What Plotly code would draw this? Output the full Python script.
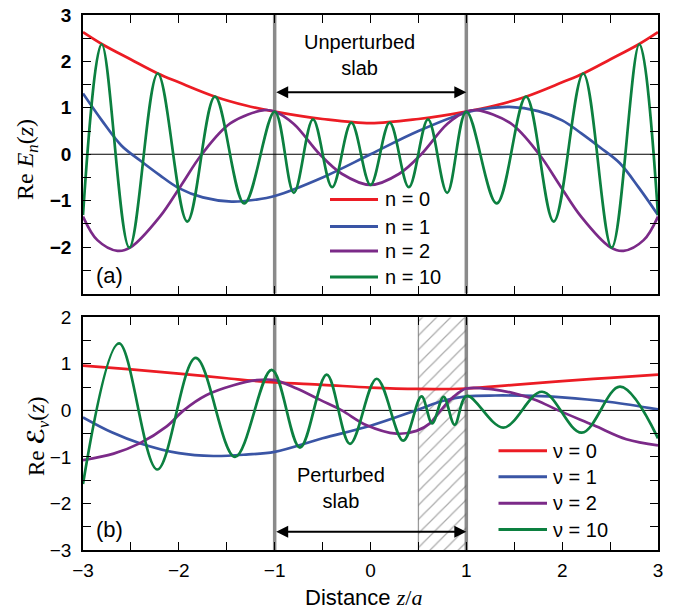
import plotly.graph_objects as go

# ---- mode profiles, unperturbed slab (panel a) ----
Z_N0 = [-3.0, -2.8, -2.5, -2.22, -2.0, -1.62, -1.3, -1.0, -0.5, 0.0, 0.5, 1.0, 1.3, 1.62, 2.0, 2.22, 2.5, 2.8, 3.0]
RE_N0 = [2.63, 2.37, 2.04, 1.74, 1.55, 1.24, 1.05, 0.92, 0.76, 0.67, 0.76, 0.92, 1.05, 1.24, 1.55, 1.74, 2.04, 2.37, 2.63]

Z_N1 = [-3.0, -2.8, -2.6, -2.4, -2.2, -2.0, -1.75, -1.45, -1.2, -1.0, -0.5, 0.0,
        0.5, 1.0, 1.2, 1.45, 1.75, 2.0, 2.2, 2.4, 2.6, 2.8, 3.0]
RE_N1 = [1.31, 0.72, 0.19, -0.14, -0.45, -0.73, -0.93, -1.02, -0.98, -0.90, -0.50, 0.0,
         0.50, 0.90, 0.98, 1.02, 0.93, 0.73, 0.45, 0.14, -0.19, -0.72, -1.31]

Z_N2 = [-3.0, -2.85, -2.64, -2.5, -2.2, -1.97, -1.76, -1.46, -1.11, -1.0, -0.8, -0.53, -0.3, 0.0,
        0.3, 0.53, 0.8, 1.0, 1.11, 1.46, 1.76, 1.97, 2.2, 2.5, 2.64, 2.85, 3.0]
RE_N2 = [-1.34, -1.85, -2.08, -2.0, -1.35, -0.65, 0.0, 0.67, 0.95, 0.92, 0.65, 0.0, -0.42, -0.66,
         -0.42, 0.0, 0.65, 0.92, 0.95, 0.67, 0.0, -0.65, -1.35, -2.0, -2.08, -1.85, -1.34]

# n = 10: values at the crests and troughs
Z_N10 = [-3.0, -2.805, -2.517, -2.22, -1.912, -1.623, -1.317, -1.0, -0.8, -0.6, -0.4, -0.2, 0.0,
         0.2, 0.4, 0.6, 0.8, 1.0, 1.317, 1.623, 1.912, 2.22, 2.517, 2.805, 3.0]
RE_N10 = [-1.31, 2.37, -2.01, 1.74, -1.45, 1.24, -1.06, 0.92, -0.83, 0.75, -0.71, 0.68, -0.66,
          0.68, -0.71, 0.75, -0.83, 0.92, -1.06, 1.24, -1.45, 1.74, -2.01, 2.37, -1.31]

# ---- mode profiles, perturbed slab (panel b) ----
Z_V0 = [-3.0, -2.5, -2.0, -1.5, -1.0, -0.5, 0.0, 0.5, 1.0, 1.5, 2.0, 2.5, 3.0]
RE_V0 = [0.96, 0.88, 0.79, 0.69, 0.60, 0.55, 0.49, 0.46, 0.47, 0.55, 0.63, 0.70, 0.77]

Z_V1 = [-3.0, -2.7, -2.4, -2.0, -1.64, -1.3, -1.0, -0.5, 0.0, 0.5, 0.75, 1.0, 1.3, 1.7, 2.0, 2.5, 3.0]
RE_V1 = [-0.15, -0.47, -0.71, -0.92, -0.98, -0.95, -0.89, -0.60, -0.33, 0.02, 0.20, 0.30, 0.32, 0.31, 0.28, 0.18, 0.02]

Z_V2 = [-3.0, -2.68, -2.41, -2.13, -1.95, -1.71, -1.43, -1.19, -1.0, -0.77, -0.52, -0.30, -0.04,
        0.27, 0.48, 0.62, 0.72, 0.865, 1.0, 1.28, 1.49, 1.73, 1.96, 2.33, 2.67, 3.0]
RE_V2 = [-1.07, -0.93, -0.71, -0.35, 0.0, 0.33, 0.54, 0.65, 0.65, 0.47, 0.22, 0.0, -0.32,
         -0.50, -0.44, -0.28, -0.03, 0.29, 0.47, 0.45, 0.37, 0.22, 0.0, -0.32, -0.62, -0.75]

Z_V10 = [-3.0, -2.624, -2.225, -1.824, -1.414, -1.031, -0.736, -0.457, -0.214, 0.065, 0.342,
         0.532, 0.643, 0.763, 0.878, 1.004, 1.386, 1.79, 2.204, 2.604, 3.0]
RE_V10 = [-1.58, 1.44, -1.27, 1.13, -1.00, 0.87, -0.80, 0.77, -0.72, 0.68, -0.65,
          0.30, -0.28, 0.29, -0.31, 0.31, -0.37, 0.40, -0.48, 0.51, -0.60]

LABELS_TOP = ["n = 0", "n = 1", "n = 2", "n = 10"]
LABELS_BOT = ["\u03bd = 0", "\u03bd = 1", "\u03bd = 2", "\u03bd = 10"]
COLORS = ["#ec1c24", "#3a55a5", "#7b2a88", "#0c8040"]

SLAB_EDGES = [-1.0, 1.0]
PERTURBED_ZONE = [0.5, 1.0]
X_TICKS = [-3, -2, -1, 0, 1, 2, 3]
Y_TICKS_TOP = [-2, -1, 0, 1, 2, 3]
Y_TICKS_BOT = [-3, -2, -1, 0, 1, 2]

SANS = "Liberation Sans, Arial, sans-serif"
SERIF = "Liberation Serif, Times New Roman, serif"
W, H = 680, 612
GRAY = "#8a8a8a"


def px(x):
    return x / W


def py(y):
    return 1 - y / H


fig = go.Figure()

# hatched perturbed zone
fig.add_trace(go.Scatter(
    x=[PERTURBED_ZONE[0], PERTURBED_ZONE[1], PERTURBED_ZONE[1], PERTURBED_ZONE[0], PERTURBED_ZONE[0]],
    y=[-3, -3, 2, 2, -3], xaxis="x2", yaxis="y2", mode="lines", fill="toself",
    line=dict(width=0), fillcolor="rgba(0,0,0,0)",
    fillpattern=dict(shape="/", fgcolor="#555555", bgcolor="rgba(0,0,0,0)", size=10, solidity=0.12),
    hoverinfo="skip", showlegend=False))

top = [(Z_N0, RE_N0), (Z_N1, RE_N1), (Z_N2, RE_N2), (Z_N10, RE_N10)]
bot = [(Z_V0, RE_V0), (Z_V1, RE_V1), (Z_V2, RE_V2), (Z_V10, RE_V10)]

for (zs, vs), c, name in zip(top, COLORS, LABELS_TOP):
    fig.add_trace(go.Scatter(x=zs, y=vs, mode="lines", name=name, xaxis="x", yaxis="y",
                             line=dict(color=c, width=2.7, shape="spline", smoothing=1.0),
                             showlegend=False))
for (zs, vs), c, name in zip(bot, COLORS, LABELS_BOT):
    fig.add_trace(go.Scatter(x=zs, y=vs, mode="lines", name=name, xaxis="x2", yaxis="y2",
                             line=dict(color=c, width=2.7, shape="spline", smoothing=1.0),
                             showlegend=False))

XDOM = [83 / W, 658 / W]
TOP_DOM = [py(293.5), py(15)]
BOT_DOM = [py(550), py(317.3)]

axis_common = dict(showline=True, linecolor="black", linewidth=1.5, mirror="ticks",
                   ticks="inside", ticklen=8, tickwidth=1.2, tickcolor="black",
                   showgrid=False, zeroline=False, automargin=False,
                   minor=dict(ticks="inside", ticklen=8, tickwidth=1.2, tickcolor="black", dtick=0.5,
                              showgrid=False))

fig.update_layout(
    width=W, height=H, margin=dict(l=0, r=0, t=0, b=0, autoexpand=False),
    paper_bgcolor="white", plot_bgcolor="white", showlegend=False,
    xaxis=dict(domain=XDOM, anchor="y", range=[-3, 3], tickvals=X_TICKS, showticklabels=False,
               **axis_common),
    yaxis=dict(domain=TOP_DOM, anchor="x", range=[-3, 3], tickvals=Y_TICKS_TOP,
               tickfont=dict(family=SANS, size=19, color="black", weight="bold"),
               ticklabelstandoff=6, **axis_common),
    xaxis2=dict(domain=XDOM, anchor="y2", range=[-3, 3], tickvals=X_TICKS,
                tickfont=dict(family=SANS, size=19, color="black"), ticklabelstandoff=2,
                **axis_common),
    yaxis2=dict(domain=BOT_DOM, anchor="x2", range=[-3, 2], tickvals=Y_TICKS_BOT,
                tickfont=dict(family=SANS, size=19, color="black"), ticklabelstandoff=6,
                **axis_common),
)

shapes = []
# zero reference lines
for xr, yr in (("x", "y"), ("x2", "y2")):
    shapes.append(dict(type="line", xref=xr, yref=yr, x0=-3, x1=3, y0=0, y1=0,
                       line=dict(color="black", width=1), layer="below"))
# slab boundaries
for xr, yr in (("x", "y domain"), ("x2", "y2 domain")):
    for xe in SLAB_EDGES:
        shapes.append(dict(type="line", xref=xr, yref=yr, x0=xe, x1=xe, y0=0, y1=1,
                           line=dict(color=GRAY, width=3.5), layer="below"))
shapes.append(dict(type="line", xref="x2", yref="y2 domain", x0=PERTURBED_ZONE[0], x1=PERTURBED_ZONE[0],
                   y0=0, y1=1, line=dict(color="#9a9a9a", width=1.3), layer="below"))

annotations = []
# slab arrows
annotations.append(dict(x=SLAB_EDGES[1], y=1.335, ax=SLAB_EDGES[0], ay=1.335, xref="x", yref="y",
                        axref="x", ayref="y", text="", showarrow=True, arrowside="end+start",
                        arrowhead=2, arrowsize=1.2, arrowwidth=2, arrowcolor="black"))
annotations.append(dict(x=SLAB_EDGES[1], y=-2.61, ax=SLAB_EDGES[0], ay=-2.61, xref="x2", yref="y2",
                        axref="x2", ayref="y2", text="", showarrow=True, arrowside="end+start",
                        arrowhead=2, arrowsize=1.2, arrowwidth=2, arrowcolor="black"))
annotations.append(dict(x=-0.12, y=2.14, xref="x", yref="y", text="Unperturbed<br>slab",
                        showarrow=False, font=dict(family=SANS, size=20, color="black")))
annotations.append(dict(x=-0.31, y=-1.66, xref="x2", yref="y2", text="Perturbed<br>slab",
                        showarrow=False, font=dict(family=SANS, size=20, color="black")))
annotations.append(dict(x=px(94), y=py(276), xref="paper", yref="paper", text="(a)", xanchor="left",
                        yanchor="middle", showarrow=False, font=dict(family=SANS, size=22, color="black")))
annotations.append(dict(x=px(94), y=py(529), xref="paper", yref="paper", text="(b)", xanchor="left",
                        yanchor="middle", showarrow=False, font=dict(family=SANS, size=22, color="black")))

# axis titles
annotations.append(dict(x=px(27), y=py(160), xref="paper", yref="paper", textangle=-90,
                        xanchor="center", yanchor="middle",
                        text="Re <i>E</i><sub><i>n</i></sub>(<i>z</i>)", showarrow=False,
                        font=dict(family=SERIF, size=24, color="black")))
annotations.append(dict(x=px(37), y=py(436), xref="paper", yref="paper", textangle=-90,
                        xanchor="center", yanchor="middle",
                        text="Re <span style='font-family:DejaVu Sans'><b>\u2130</b></span>"
                             "<sub><i>\u03bd</i></sub>(<i>z</i>)", showarrow=False,
                        font=dict(family=SERIF, size=23, color="black")))
annotations.append(dict(x=px(363), y=py(597), xref="paper", yref="paper", xanchor="center",
                        yanchor="middle",
                        text="Distance <span style='font-family:Liberation Serif'><i>z</i>/<i>a</i></span>",
                        showarrow=False, font=dict(family=SANS, size=22, color="black")))

# legends
LEG_TOP = dict(x0=330, x1=378, tx=383, rows=[199.5, 226.5, 251, 277])
LEG_BOT = dict(x0=498.5, x1=547, tx=551, rows=[450.7, 476.7, 503.3, 529.5])
for leg, labels in ((LEG_TOP, LABELS_TOP), (LEG_BOT, LABELS_BOT)):
    for row, c, lab in zip(leg["rows"], COLORS, labels):
        shapes.append(dict(type="line", xref="paper", yref="paper", x0=px(leg["x0"]), x1=px(leg["x1"]),
                           y0=py(row), y1=py(row), line=dict(color=c, width=3)))
        annotations.append(dict(x=px(leg["tx"]), y=py(row), xref="paper", yref="paper", text=lab,
                                xanchor="left", yanchor="middle", showarrow=False,
                                font=dict(family=SANS, size=20, color="black")))

fig.update_layout(shapes=shapes, annotations=annotations)
fig.write_html("out.html")
